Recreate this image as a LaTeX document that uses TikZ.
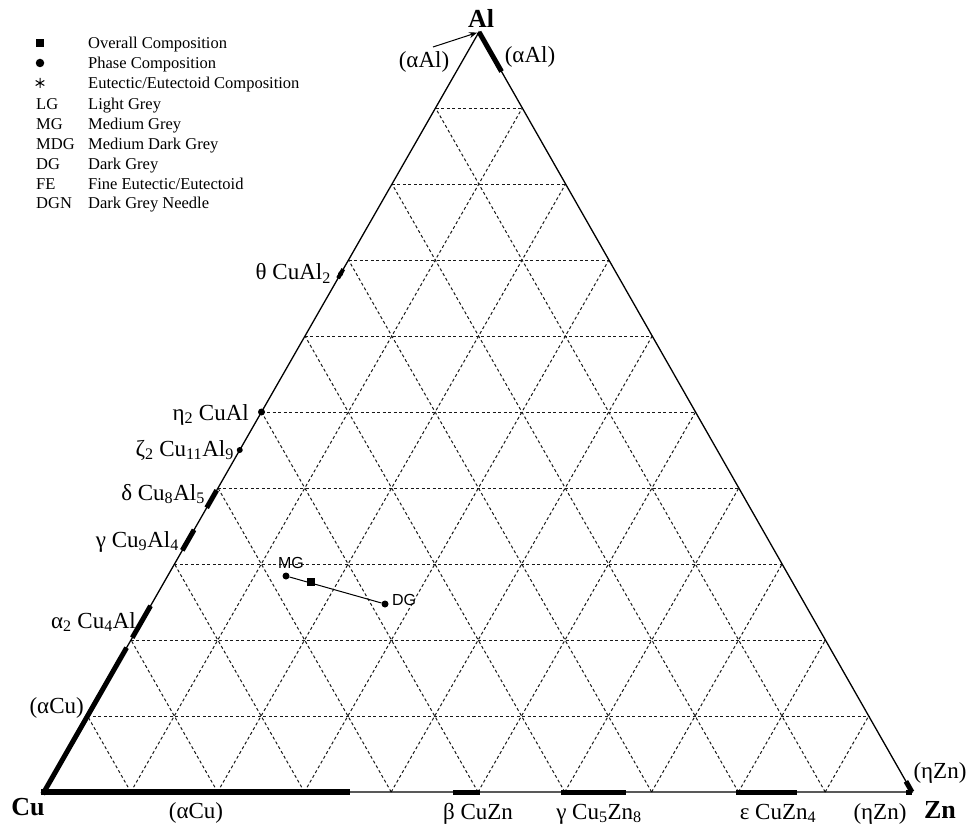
\documentclass[tikz,border=0pt]{standalone}
\usepackage{fontspec}
\setmainfont{Liberation Serif}
\newfontfamily\sansf{Liberation Sans}
\usetikzlibrary{calc,arrows.meta}
\begin{document}
\begin{tikzpicture}[x=1pt,y=-1pt,
  edge/.style={line width=1.3pt},
  gridline/.style={dash pattern=on 3pt off 2.5pt, line width=1pt, black!90},
  phase/.style={line width=5pt},
  lbl/.style={font=\fontsize{23}{26}\selectfont, inner sep=0pt},
  corner/.style={font=\fontsize{26}{28}\selectfont\bfseries, inner sep=0pt},
  leg/.style={font=\fontsize{16.5}{19}\selectfont, anchor=base west, inner sep=0pt},
  dotc/.style={circle, fill, inner sep=0pt, minimum size=7pt},
  sq/.style={fill, inner sep=0pt, minimum size=8pt},
  smalllbl/.style={font=\sansf\fontsize{16}{18}\selectfont, inner sep=0pt},
]
\useasboundingbox (0,0) rectangle (970,829);
\coordinate (Cu) at (44,792);
\coordinate (Zn) at (912,792);
\coordinate (Al) at (479,32);

% grid
\foreach \k in {1,...,9} {
  \draw[gridline] ($(Cu)!\k/10!(Al)$) -- ($(Zn)!\k/10!(Al)$);
  \draw[gridline] ($(Cu)!\k/10!(Zn)$) -- ($(Al)!\k/10!(Zn)$);
  \draw[gridline] ($(Zn)!\k/10!(Cu)$) -- ($(Al)!\k/10!(Cu)$);
}

% triangle
\draw[edge] (Cu) -- (Zn) -- (Al) -- cycle;

% phase regions: Al-Zn side
\draw[phase] (Al) -- ($(Al)!0.052!(Zn)$);
\draw[phase] (Zn) -- ($(Zn)!0.014!(Al)$);

% Cu-Al side
\draw[phase, line cap=rect] (Cu) -- ($(Cu)!0.187!(Al)$);
\draw[phase] ($(Cu)!0.203!(Al)$) -- ($(Cu)!0.245!(Al)$);
\draw[phase] ($(Cu)!0.318!(Al)$) -- ($(Cu)!0.345!(Al)$);
\draw[phase] ($(Cu)!0.374!(Al)$) -- ($(Cu)!0.397!(Al)$);
\node[dotc, minimum size=6pt] (zeta) at ($(Cu)!0.45!(Al)$) {};
\node[dotc] (eta) at ($(Cu)!0.5!(Al)$) {};
\draw[phase, line width=4pt] ($(Cu)!0.676!(Al)$) -- ($(Cu)!0.688!(Al)$);
\node[dotc, minimum size=5pt] (theta) at ($(Cu)!0.682!(Al)$) {};

% Cu-Zn side (bars sit slightly below the edge)
\begin{scope}[yshift=-2pt]
\draw[phase, line width=6pt, line cap=rect] (Cu) -- ($(Cu)!0.349!(Zn)$);
\draw[phase] ($(Cu)!0.471!(Zn)$) -- ($(Cu)!0.502!(Zn)$);
\draw[phase] ($(Cu)!0.596!(Zn)$) -- ($(Cu)!0.670!(Zn)$);
\draw[phase] ($(Cu)!0.797!(Zn)$) -- ($(Cu)!0.868!(Zn)$);
\draw[phase] ($(Cu)!0.993!(Zn)$) -- (Zn);
\end{scope}

% corner labels
\node[corner, anchor=base] (lAl) at (481,28) {Al};
\node[corner, anchor=base] (lCu) at (28,815) {Cu};
\node[corner, anchor=base] (lZn) at (940,818) {Zn};

% (alpha Al)
\node[lbl, anchor=base] (aAlL) at (424,68) {(αAl)};
\node[lbl, anchor=base] (aAlR) at (530,63) {(αAl)};
\coordinate (arrS) at (433,47);
\draw[line width=1pt, -{Stealth[length=8pt,width=6pt]}, shorten >=2pt] (arrS) -- (Al);

% Cu-Al side labels
\node[lbl, anchor=base east] (lth) at (331,280) {θ CuAl\textsubscript{2}};
\node[lbl, anchor=base east] (let) at (249,420) {η\textsubscript{2} CuAl};
\node[lbl, anchor=base east] (lze) at (234,456) {ζ\textsubscript{2} Cu\textsubscript{11}Al\textsubscript{9}};
\node[lbl, anchor=base east] (lde) at (205,500) {δ Cu\textsubscript{8}Al\textsubscript{5}};
\node[lbl, anchor=base east] (lga) at (179,547) {γ Cu\textsubscript{9}Al\textsubscript{4}};
\node[lbl, anchor=base east] (lal) at (136,628) {α\textsubscript{2} Cu\textsubscript{4}Al};
\node[lbl, anchor=base east] (laCu) at (84,713) {(αCu)};

% Cu-Zn side labels
\node[lbl, anchor=base] (baCu) at (196,818) {(αCu)};
\node[lbl, anchor=base] (lbe) at (478,819) {β CuZn};
\node[lbl, anchor=base] (lgz) at (599,819) {γ Cu\textsubscript{5}Zn\textsubscript{8}};
\node[lbl, anchor=base] (lep) at (778,819) {ε CuZn\textsubscript{4}};
\node[lbl, anchor=base] (lez) at (880,819) {(ηZn)};
\node[lbl, anchor=base] (lezR) at (940,778) {(ηZn)};

% sample
\node[dotc] (mg) at (286,576) {};
\node[dotc] (dg) at (385,604) {};
\draw[line width=1pt] (mg) -- (dg);
\node[sq, minimum size=7.5pt] (ov) at (311,582) {};
\node[smalllbl] (lmg) at (291,563) {MG};
\node[smalllbl] (ldg) at (404,600) {DG};

% legend
\node[sq] (k1) at (40,43) {};
\node[dotc, minimum size=8.5pt] (k2) at (40,63) {};
\coordinate (k3) at (40,83);
\draw[line width=1pt] ($(k3)+(0,-5)$) -- ($(k3)+(0,5)$)
  ($(k3)+(-4.3,-2.5)$) -- ($(k3)+(4.3,2.5)$)
  ($(k3)+(-4.3,2.5)$) -- ($(k3)+(4.3,-2.5)$);
\node[leg] (t1) at (88,48.5) {Overall Composition};
\node[leg] (t2) at (88,68.5) {Phase Composition};
\node[leg] (t3) at (88,88.5) {Eutectic/Eutectoid Composition};
\node[leg] (a4) at (36,109.5) {LG};
\node[leg] (t4) at (88,109.5) {Light Grey};
\node[leg] (a5) at (36,130) {MG};
\node[leg] (t5) at (88,130) {Medium Grey};
\node[leg] (a6) at (36,150) {MDG};
\node[leg] (t6) at (88,150) {Medium Dark Grey};
\node[leg] (a7) at (36,169.5) {DG};
\node[leg] (t7) at (88,169.5) {Dark Grey};
\node[leg] (a8) at (36,189.5) {FE};
\node[leg] (t8) at (88,189.5) {Fine Eutectic/Eutectoid};
\node[leg] (a9) at (36,208.5) {DGN};
\node[leg] (t9) at (88,208.5) {Dark Grey Needle};
\end{tikzpicture}
\end{document}
